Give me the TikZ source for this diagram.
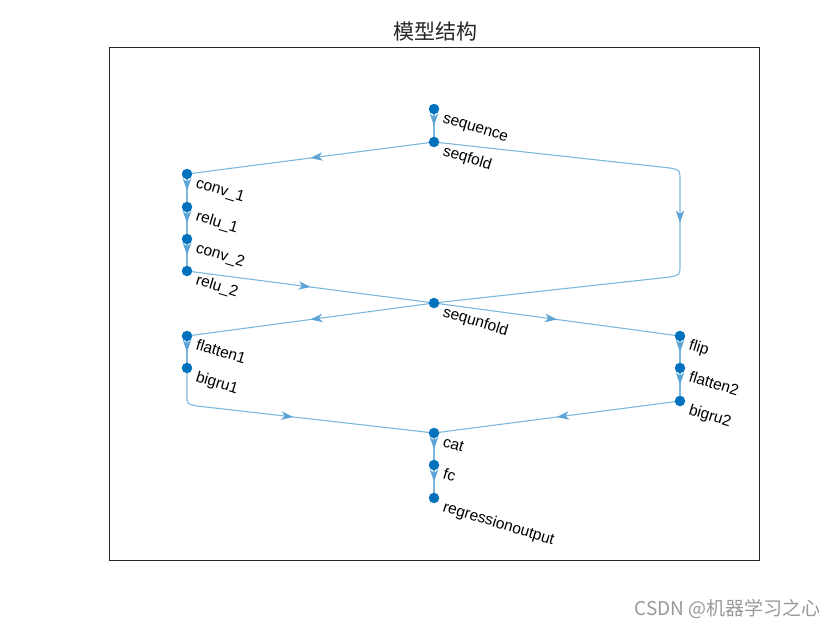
\documentclass[tikz,border=0pt]{standalone}
\usepackage{fontspec}
\setmainfont{Liberation Sans}
\newfontfamily\cjk{Noto Sans CJK SC}
\usetikzlibrary{arrows.meta,decorations.markings,backgrounds}
\definecolor{mblue}{RGB}{0,114,189}
\definecolor{eblue}{RGB}{125,183,222}
\definecolor{ablue}{RGB}{92,163,214}
\definecolor{axgray}{RGB}{38,38,38}
\tikzset{
  lay/.style={circle, fill=mblue, inner sep=0pt, minimum size=10.5pt},
  lab/.style={anchor=base west, inner sep=0pt, rotate=-17, font=\fontsize{15.5}{18}\selectfont},
  conn/.style={draw=eblue, line width=1.1pt, postaction={decorate},
    decoration={markings, mark=at position 0.5 with {\arrow{Stealth[color=ablue,length=12pt,width=8.5pt,inset=3.5pt]}}}},
}
\begin{document}
\begin{tikzpicture}[x=1pt, y=-1pt]
\useasboundingbox (0,0) rectangle (840,630);
\draw[axgray, line width=0.9pt] (109.5,47.5) rectangle (759.5,560.5);
\node[font=\cjk\fontsize{21}{24}\selectfont, text=axgray] (title) at (435,32) {模型结构};
\node[anchor=east, text=black!40, font=\cjk\fontsize{19}{22}\selectfont] (wm) at (824,609) {CSDN @机器学习之心};

% layers
\node[lay] (seq)   at (434,109) {};
\node[lay] (fold)  at (434,142) {};
\node[lay] (c1)    at (187,174) {};
\node[lay] (r1)    at (187,207) {};
\node[lay] (c2)    at (187,239) {};
\node[lay] (r2)    at (187,271) {};
\node[lay] (unf)   at (434,303) {};
\node[lay] (fl1)   at (187,336) {};
\node[lay] (bg1)   at (187,368) {};
\node[lay] (flip)  at (680,336) {};
\node[lay] (fl2)   at (680,368) {};
\node[lay] (bg2)   at (680,401) {};
\node[lay] (cat)   at (434,433) {};
\node[lay] (fc)    at (434,465) {};
\node[lay] (reg)   at (434,498) {};

% labels
\node[lab] (lseq)  at ([shift={(8,13)}]seq.center)  {sequence};
\node[lab] (lfold) at ([shift={(8,13)}]fold.center) {seqfold};
\node[lab] (lc1)   at ([shift={(8,13)}]c1.center)   {conv\_1};
\node[lab] (lr1)   at ([shift={(8,13)}]r1.center)   {relu\_1};
\node[lab] (lc2)   at ([shift={(8,13)}]c2.center)   {conv\_2};
\node[lab] (lr2)   at ([shift={(8,13)}]r2.center)   {relu\_2};
\node[lab] (lunf)  at ([shift={(8,13)}]unf.center)  {sequnfold};
\node[lab] (lfl1)  at ([shift={(8,13)}]fl1.center)  {flatten1};
\node[lab] (lbg1)  at ([shift={(8,13)}]bg1.center)  {bigru1};
\node[lab] (lflip) at ([shift={(8,13)}]flip.center) {flip};
\node[lab] (lfl2)  at ([shift={(8,13)}]fl2.center)  {flatten2};
\node[lab] (lbg2)  at ([shift={(8,13)}]bg2.center)  {bigru2};
\node[lab] (lcat)  at ([shift={(8,13)}]cat.center)  {cat};
\node[lab] (lfc)   at ([shift={(8,13)}]fc.center)   {fc};
\node[lab] (lreg)  at ([shift={(8,13)}]reg.center)  {regressionoutput};

\coordinate (k1) at (670,168);
\coordinate (k2) at (680,180);
\coordinate (k3) at (680,265);
\coordinate (k4) at (670,277);
\coordinate (k5) at (187,396);
\coordinate (k6) at (197,406);

\begin{scope}[on background layer]
\draw[conn] (seq.center) -- (fold.center);
\draw[conn] (fold.center) -- (c1.center);
\draw[conn] (fold.center) -- (k1) .. controls (680,170) .. (k2) -- (k3) .. controls (680,275) .. (k4) -- (unf.center);
\draw[conn] (c1.center) -- (r1.center);
\draw[conn] (r1.center) -- (c2.center);
\draw[conn] (c2.center) -- (r2.center);
\draw[conn] (r2.center) -- (unf.center);
\draw[conn] (unf.center) -- (fl1.center);
\draw[conn] (unf.center) -- (flip.center);
\draw[conn] (fl1.center) -- (bg1.center);
\draw[conn] (flip.center) -- (fl2.center);
\draw[conn] (fl2.center) -- (bg2.center);
\draw[conn] (bg1.center) -- (k5) .. controls (187,404) .. (k6) -- (cat.center);
\draw[conn] (bg2.center) -- (cat.center);
\draw[conn] (cat.center) -- (fc.center);
\draw[conn] (fc.center) -- (reg.center);
\end{scope}
\end{tikzpicture}
\end{document}
